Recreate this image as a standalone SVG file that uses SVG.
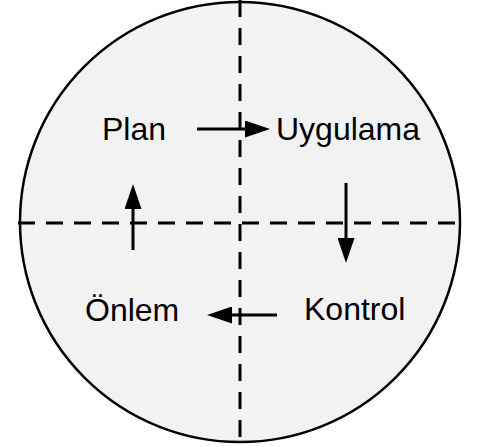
<svg xmlns="http://www.w3.org/2000/svg" width="481" height="447" viewBox="0 0 481 447">
<style>
.lbl{font-family:"Liberation Sans",Arial,sans-serif;font-size:32px;fill:#000}
.dash{stroke:#000;stroke-width:3;stroke-dasharray:17 11;fill:none}
.arr{stroke:#000;stroke-width:3;fill:none;marker-end:url(#ah)}
</style>
<defs>
<marker id="ah" viewBox="0 0 25 17" refX="2" refY="8.5" markerWidth="25" markerHeight="17" markerUnits="userSpaceOnUse" orient="auto">
<path d="M0,0 L25,8.5 L0,17 z" fill="#000"/>
</marker>
</defs>
<rect width="481" height="447" fill="#fff"/>
<g id="circle">
<circle cx="240" cy="222" r="220" fill="#f2f2f2" stroke="#000" stroke-width="2.5"/>
</g>
<g id="axes">
<line class="dash" x1="240" y1="0" x2="240" y2="442"/>
<line class="dash" x1="18" y1="223" x2="460" y2="223"/>
</g>
<g id="connectors">
<line class="arr" x1="197" y1="129" x2="247" y2="129"/>
<line class="arr" x1="346" y1="183" x2="346" y2="240"/>
<line class="arr" x1="277" y1="315" x2="230" y2="315"/>
<line class="arr" x1="133" y1="250" x2="133" y2="207"/>
</g>
<g id="plan"><text class="lbl" x="102" y="140">Plan</text></g>
<g id="uygulama"><text class="lbl" x="276" y="140">Uygulama</text></g>
<g id="kontrol"><text class="lbl" x="304" y="320">Kontrol</text></g>
<g id="onlem"><text class="lbl" x="85" y="321">Önlem</text></g>
</svg>
